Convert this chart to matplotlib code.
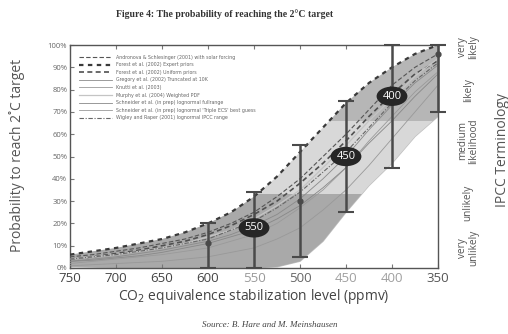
import numpy as np
import matplotlib
matplotlib.use("Agg")
import matplotlib.pyplot as plt

# ---------------- data ----------------
ppm = [750, 725, 700, 675, 650, 625, 600, 575, 550, 525, 500, 475, 450, 425, 400, 375, 350]
env_upper = [6, 7.5, 9, 11, 13, 16, 20, 25, 32, 41, 52, 63, 74, 83, 90, 96, 100]
env_lower = [0.5, 0.3, 0, 0, 0, 0, 0, 0, 0, 0.5, 3, 12, 25, 37, 47, 59, 68]

series_labels = [
    "Andronova & Schlesinger (2001) with solar forcing",
    "Forest et al. (2002) Expert priors",
    "Forest et al. (2002) Uniform priors",
    "Gregory et al. (2002) Truncated at 10K",
    "Knutti et al. (2003)",
    "Murphy et al. (2004) Weighted PDF",
    "Schneider et al. (in prep) lognormal fullrange",
    "Schneider et al. (in prep) lognormal 'Triple ECS' best guess",
    "Wigley and Raper (2001) lognormal IPCC range",
]
s_andronova = [5, 6, 7.5, 9, 11, 13, 16, 20, 25, 32, 40, 50, 60, 71, 82, 90, 96]
s_forest_exp = [6, 7.5, 9, 11, 13, 16, 20, 25, 32, 41, 52, 63, 74, 83, 90, 96, 100]
s_forest_uni = [4, 5, 6.5, 8, 10, 12, 15, 19, 24, 30, 38, 47, 57, 68, 78, 87, 93]
s_gregory = [3, 4, 5, 6.5, 8, 10, 12, 15, 19, 24, 31, 40, 50, 62, 73, 83, 91]
s_knutti = [2, 3, 4, 5, 6, 7.5, 9, 12, 15, 20, 27, 35, 45, 57, 68, 79, 88]
s_murphy = [4, 5, 6, 7.5, 9, 11, 14, 17, 22, 28, 35, 45, 55, 66, 76, 86, 94]
s_schneider_full = [3, 3.5, 4.5, 5.5, 7, 9, 11, 14, 17, 22, 28, 36, 45, 56, 66, 77, 87]
s_schneider_tri = [1, 1.5, 2, 2.5, 3, 4, 5, 7, 9, 13, 18, 26, 35, 46, 58, 70, 82]
s_wigley = [4, 5, 6, 7.5, 9, 11, 13, 17, 21, 27, 34, 43, 52, 63, 74, 84, 92]

bar_ppm = [600, 550, 500, 450, 400, 350]
bar_low = [0, 0, 5, 25, 45, 70]
bar_high = [20, 34, 55, 75, 100, 100]
bar_mid = [11, 18, 30, 50, 77, 96]
bar_tags = ["", "550", "", "450", "400", ""]

xticks = [750, 700, 650, 600, 550, 500, 450, 400, 350]
xtick_colors = ["#444", "#444", "#444", "#444", "#9a9a9a", "#666", "#a0a0a0", "#a0a0a0", "#555"]
yticks = [0, 10, 20, 30, 40, 50, 60, 70, 80, 90, 100]

bands = [(0, 33, "#a9a9a9"), (33, 66, "#d8d8d8"), (66, 100, "#b6b6b6")]
terms = [("very\nlikely", 99), ("likely", 80), ("medium\nlikelihood", 57), ("unlikely", 29), ("very\nunlikely", 9)]

# ---------------- figure ----------------
W, H = 508, 334
fig = plt.figure(figsize=(W / 100, H / 100), dpi=100)
ax = fig.add_axes([70 / W, 1 - 268 / H, 368 / W, 223 / H])
ax.set_xlim(750, 350)
ax.set_ylim(0, 100)

env = ax.fill_between(ppm, env_lower, env_upper, color="#c0c0c0", lw=0, zorder=1)
env_path = env.get_paths()[0]
for lo, hi, c in bands:
    sp = ax.axhspan(lo, hi, color=c, lw=0, zorder=1.5)
    sp.set_clip_path(env_path, ax.transData)

styles = [
    dict(color="#555", lw=0.8, ls=(0, (4, 2))),
    dict(color="#3a3a3a", lw=1.6, ls=(0, (2, 2))),
    dict(color="#505050", lw=1.2, ls=(0, (3, 2))),
    dict(color="#8a8a8a", lw=0.6, ls="-"),
    dict(color="#9a9a9a", lw=0.6, ls="-"),
    dict(color="#c4c4c4", lw=0.9, ls="-"),
    dict(color="#888", lw=0.6, ls="-"),
    dict(color="#999", lw=0.6, ls="-"),
    dict(color="#666", lw=0.8, ls=(0, (4, 1.5, 1, 1.5))),
]
all_series = [s_andronova, s_forest_exp, s_forest_uni, s_gregory, s_knutti,
              s_murphy, s_schneider_full, s_schneider_tri, s_wigley]
for lab, ys, st in zip(series_labels, all_series, styles):
    ax.plot(ppm, ys, label=lab, zorder=3, **st)

# error bars
for xv, lo, hi, mid, tag in zip(bar_ppm, bar_low, bar_high, bar_mid, bar_tags):
    ax.errorbar([xv], [mid], yerr=[[mid - lo], [hi - mid]], fmt="o", ms=3.5,
                color="#4a4a4a", ecolor="#4a4a4a", elinewidth=1.8, capsize=6,
                capthick=1.5, zorder=5, clip_on=False)
    if tag:
        ax.text(xv, mid, tag, ha="center", va="center", color="white",
                fontsize=8, family="Open Sans", zorder=6,
                bbox=dict(boxstyle="ellipse,pad=0.12", fc="#262626", ec="none"))

# axes styling
for s in ax.spines.values():
    s.set_color("#555")
    s.set_linewidth(1.0)
ax.set_xticks(xticks)
ax.set_xticklabels([str(v) for v in xticks], fontsize=9.5, family="Open Sans")
for lbl, c in zip(ax.get_xticklabels(), xtick_colors):
    lbl.set_color(c)
ax.set_yticks(yticks)
ax.set_yticklabels([f"{v}%" for v in yticks], fontsize=5.5, color="#666", family="Open Sans")
ax.tick_params(axis="x", direction="in", length=3, color="#777", top=True, pad=3)
ax.tick_params(axis="y", direction="in", length=3, color="#777", pad=2)

ax.set_xlabel("CO$_2$ equivalence stabilization level (ppmv)", fontsize=10,
              color="#444", family="Open Sans", labelpad=1)
fig.text(17 / W, 1 - 155 / H, "Probability to reach 2\u02daC target", rotation=90,
         ha="center", va="center", fontsize=10, color="#555", family="Open Sans")

leg = ax.legend(loc="upper left", bbox_to_anchor=(0.02, 0.965), frameon=False,
                fontsize=3.4, handlelength=7, labelspacing=0.55, handletextpad=0.8,
                borderaxespad=0)
for t in leg.get_texts():
    t.set_color("#666")

# IPCC terminology labels
tr = ax.get_yaxis_transform()
for txt, yv in terms:
    ax.text(1.082, yv, txt, transform=tr, rotation=90, ha="center", va="center",
            fontsize=7.2, color="#555", family="Open Sans", linespacing=1.0,
            multialignment="center", clip_on=False)
ax.text(1.174, 53, "IPCC Terminology", transform=tr, rotation=90, ha="center",
        va="center", fontsize=10, color="#555", family="Open Sans", clip_on=False)

fig.text(225 / W, 1 - 14 / H, "Figure 4: The probability of reaching the 2\u00b0C target",
         ha="center", va="center", fontsize=7, fontweight="bold",
         family="Liberation Serif", color="#333")
fig.text(270 / W, 1 - 325 / H, "Source: B. Hare and M. Meinshausen", ha="center",
         va="center", fontsize=6.5, style="italic", family="Liberation Serif", color="#444")

fig.savefig("out.png", dpi=100)
